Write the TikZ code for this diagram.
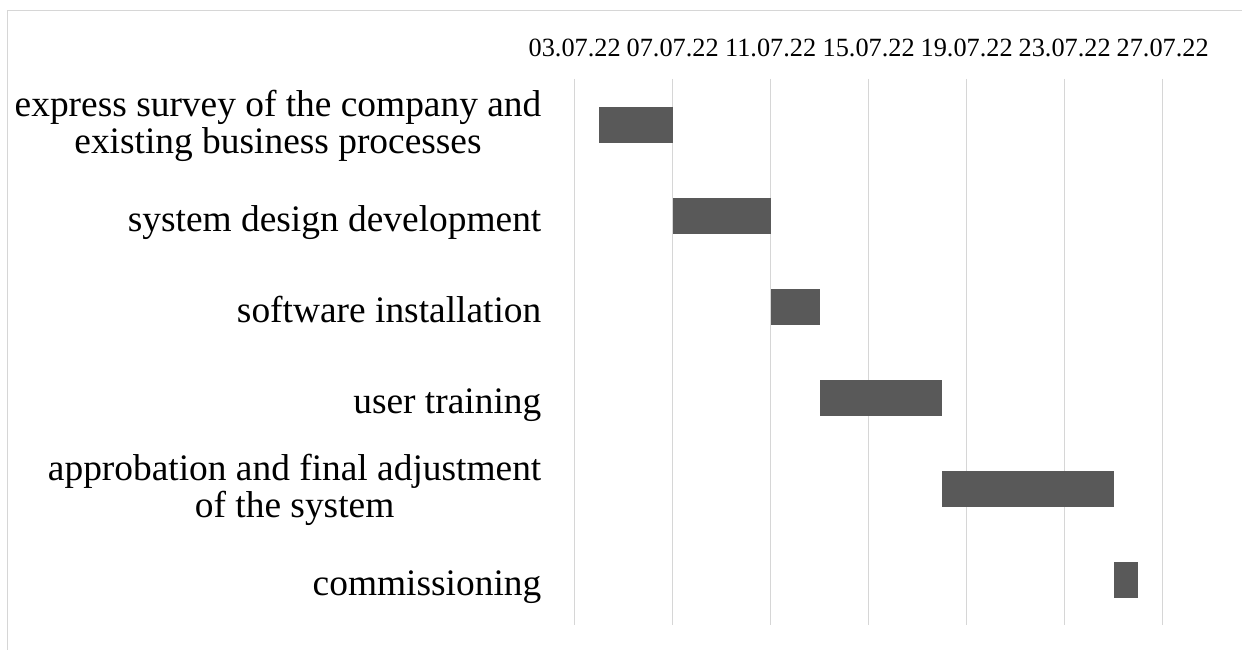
\documentclass[tikz,border=0pt]{standalone}
\usepackage{fontspec}
\setmainfont{Liberation Serif}
\begin{document}
\begin{tikzpicture}[x=1pt,y=-1pt,
  frameline/.style={draw=black!16,line width=1.5pt},
  gridline/.style={draw=black!16,line width=1.5pt},
  ganttbar/.style={fill=black!65},
  datelabel/.style={anchor=base,inner sep=0pt,font=\fontsize{26.3}{30}\selectfont},
  tasklabel/.style={anchor=base east,inner sep=0pt,font=\fontsize{37.4}{36.8}\selectfont}]
\useasboundingbox (0,0) rectangle (1242,650);
% chart frame (top and left edges)
\draw[frameline] (1242,10.3) -- (7.7,10.3) -- (7.7,650);
% vertical grid and date axis: one line every 4 days, 24.5pt per day
\foreach \d/\lab [count=\i] in {3/03.07.22,7/07.07.22,11/11.07.22,15/15.07.22,19/19.07.22,23/23.07.22,27/27.07.22}{
  \draw[gridline] ({574.7+24.5*(\d-3)},79) -- ({574.7+24.5*(\d-3)},625);
  \node[datelabel] (date\i) at ({574.7+24.5*(\d-3)},57) {\lab};
}
% task bars: start day / end day / row
\foreach \s/\e/\r in {4/7/0,7/11/1,11/13/2,13/18/3,18/25/4,25/26/5}{
  \fill[ganttbar] ({574.7+24.5*(\s-3)},{124.7+91*\r-18}) rectangle ({574.7+24.5*(\e-3)},{124.7+91*\r+18});
}
% task names (rows are 91pt apart, first row centred at 124.7)
\node[tasklabel] (t1) at (541.5,{124.7-8.5}) {\begin{tabular}[t]{@{}c@{}}express survey of the company and\\existing business processes\end{tabular}};
\node[tasklabel] (t2) at (541.5,{215.7+15.5}) {system design development};
\node[tasklabel] (t3) at (541.5,{306.7+15.5}) {software installation};
\node[tasklabel] (t4) at (541.5,{397.7+15.5}) {user training};
\node[tasklabel] (t5) at (541.5,{488.7-8.5}) {\begin{tabular}[t]{@{}c@{}}approbation and final adjustment\\of the system\end{tabular}};
\node[tasklabel] (t6) at (541.5,{579.7+15.5}) {commissioning};
\end{tikzpicture}
\end{document}
